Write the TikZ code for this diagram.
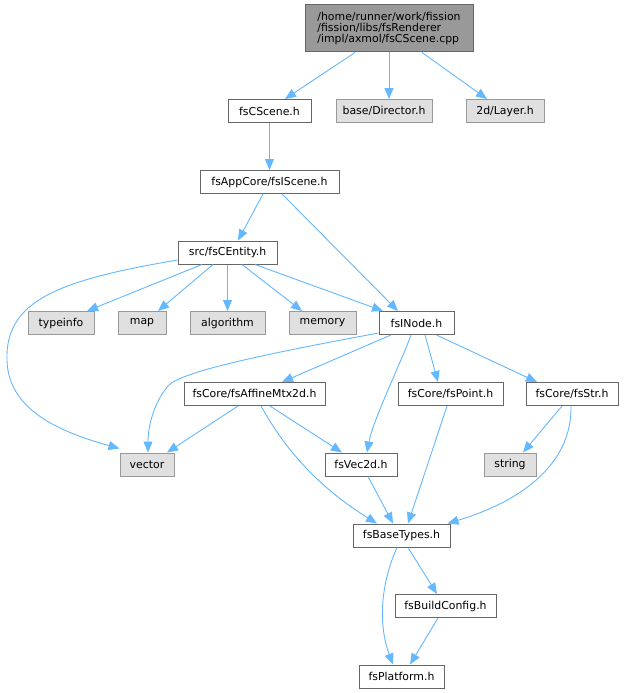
\documentclass[tikz,border=0pt]{standalone}
\usepackage{fontspec}
\setmainfont{DejaVu Sans}
\usetikzlibrary{arrows.meta}
\definecolor{edgeblue}{HTML}{63B8FF}
\definecolor{grey40}{HTML}{666666}
\definecolor{grey60}{HTML}{999999}
\definecolor{grey87}{HTML}{E0E0E0}
\tikzset{
  box/.style={draw=grey40, fill=white, line width=1pt, inner sep=0pt, minimum height=23pt,
    font=\fontsize{10.9}{11}\selectfont},
  sysbox/.style={box, draw=grey60, fill=grey87},
  topbox/.style={box, draw=grey40, fill=grey60, minimum height=47pt, align=left},
  edge/.style={draw=edgeblue, line width=0.9pt, -{Triangle[length=11pt,width=9pt]}},
}
\begin{document}
\begin{tikzpicture}[x=1pt,y=-1pt]
\useasboundingbox (0,0) rectangle (640,693);
\fill[white] (0,0) rectangle (640,693);
% nodes
\node[topbox, minimum width=168pt] (top) at (389,28.5) {/home/runner/work/fission\\/fission/libs/fsRenderer\\/impl/axmol/fsCScene.cpp};
\node[box, minimum width=83pt] (cscene) at (269.5,111) {fsCScene.h};
\node[sysbox, minimum width=96pt] (director) at (384,111) {base/Director.h};
\node[sysbox, minimum width=78pt] (layer) at (505,111) {2d/Layer.h};
\node[box, minimum width=139pt] (iscene) at (269.5,182) {fsAppCore/fsIScene.h};
\node[box, minimum width=99pt] (centity) at (227.5,252.5) {src/fsCEntity.h};
\node[sysbox, minimum width=66pt] (typeinfo) at (61,323) {typeinfo};
\node[sysbox, minimum width=48pt] (map) at (142,323) {map};
\node[sysbox, minimum width=75pt] (algorithm) at (227.5,323) {algorithm};
\node[sysbox, minimum width=67pt] (memory) at (322.5,323) {memory};
\node[box, minimum width=75pt] (inode) at (416.5,323) {fsINode.h};
\node[box, minimum width=141pt] (affine) at (254.5,394) {fsCore/fsAffineMtx2d.h};
\node[box, minimum width=105pt] (point) at (450.5,394) {fsCore/fsPoint.h};
\node[box, minimum width=92pt] (str) at (572,394) {fsCore/fsStr.h};
\node[sysbox, minimum width=54pt] (vector) at (147,464.5) {vector};
\node[box, minimum width=72pt] (vec2d) at (361,464.5) {fsVec2d.h};
\node[sysbox, minimum width=52pt] (string) at (510,464.5) {string};
\node[box, minimum width=97pt] (basetypes) at (401.5,535.5) {fsBaseTypes.h};
\node[box, minimum width=101pt] (buildconfig) at (445.5,606) {fsBuildConfig.h};
\node[box, minimum width=85pt] (platform) at (401.5,676.5) {fsPlatform.h};
% edges
\draw[edge] ([xshift=-34pt]top.south) -- ([xshift=15.5pt]cscene.north);
\draw[edge] (top.south) -- ([xshift=5pt]director.north);
\draw[edge] ([xshift=33pt]top.south) -- ([xshift=-18pt]layer.north);
\draw[edge] (cscene.south) -- (iscene.north);
\draw[edge] ([xshift=-6.5pt]iscene.south) -- ([xshift=10.5pt]centity.north);
\draw[edge] ([xshift=12.5pt]iscene.south) -- ([xshift=-18.5pt]inode.north);
\draw[edge] ([xshift=-25.5pt]centity.south) -- ([xshift=26pt]typeinfo.north);
\draw[edge] ([xshift=-14.5pt]centity.south) -- ([xshift=16pt]map.north);
\draw[edge] (centity.south) -- (algorithm.north);
\draw[edge] ([xshift=14.5pt]centity.south) -- ([xshift=-20.5pt]memory.north);
\draw[edge] ([xshift=27.5pt]centity.south) -- ([xshift=-33.5pt]inode.north);
\draw[edge] ([yshift=-7.5pt]centity.west) .. controls (60,280) and (5,300) .. (7,360)
  .. controls (8,410) and (60,432) .. ([yshift=4pt]vector.north west);
\draw[edge] ([yshift=-10pt]inode.west) .. controls (260,355) and (180,372) .. (168,386)
  .. controls (152,405) and (148,430) .. ([xshift=1pt]vector.north);
\draw[edge] ([xshift=-25.5pt]inode.south) -- ([xshift=27.5pt]affine.north);
\draw[edge] ([xshift=-5.5pt]inode.south) .. controls (400,365) and (373,420) .. ([xshift=6pt]vec2d.north);
\draw[edge] ([xshift=8.5pt]inode.south) -- ([xshift=-12.5pt]point.north);
\draw[edge] ([xshift=20pt]inode.south) -- ([xshift=-35pt]str.north);
\draw[edge] ([xshift=-16.5pt]affine.south) -- ([xshift=20pt]vector.north);
\draw[edge] ([xshift=15.5pt]affine.south) -- ([xshift=-19pt]vec2d.north);
\draw[edge] ([xshift=6.5pt]affine.south) .. controls (280,440) and (310,482) .. ([xshift=-24.5pt]basetypes.north);
\draw[edge] ([xshift=-3.5pt]point.south) -- ([xshift=6.5pt]basetypes.north);
\draw[edge] ([xshift=-10pt]str.south) -- ([xshift=13pt]string.north);
\draw[edge] ([xshift=-1pt]str.south) .. controls (572,462) and (525,500) .. ([xshift=46pt]basetypes.north);
\draw[edge] ([xshift=7pt]vec2d.south) -- ([xshift=-8.5pt]basetypes.north);
\draw[edge] ([xshift=6.5pt]basetypes.south) -- ([xshift=-8.5pt]buildconfig.north);
\draw[edge] ([xshift=-4.5pt]basetypes.south) .. controls (378,590) and (380,630) .. ([xshift=-8.5pt]platform.north);
\draw[edge] ([xshift=-7.5pt]buildconfig.south) -- ([xshift=8.5pt]platform.north);
\end{tikzpicture}
\end{document}
